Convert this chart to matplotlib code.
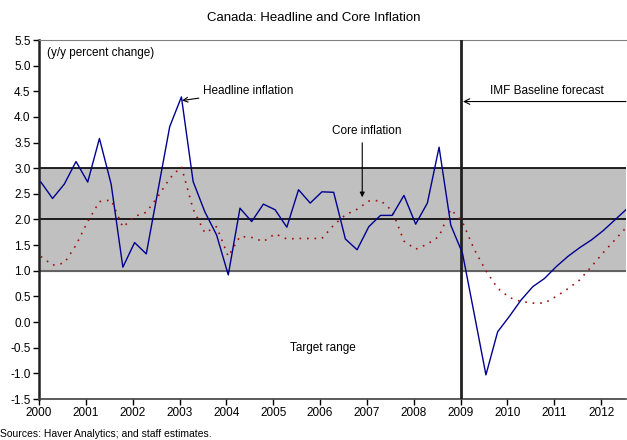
import numpy as np
import matplotlib
matplotlib.use("Agg")
import matplotlib.pyplot as plt

plt.rcParams['font.family'] = ['Liberation Sans', 'DejaVu Sans']

# quarterly, 2000Q1 .. 2012Q3
headline = [2.73, 2.41, 2.69, 3.13, 2.73, 3.58, 2.69, 1.07, 1.55, 1.33,
            2.57, 3.81, 4.39, 2.74, 2.15, 1.70, 0.92, 2.22, 1.96, 2.30,
            2.19, 1.85, 2.58, 2.32, 2.54, 2.53, 1.62, 1.41, 1.86, 2.08,
            2.08, 2.47, 1.91, 2.32, 3.41, 1.89, 1.34, 0.16, -1.03, -0.19,
            0.11, 0.43, 0.69, 0.85, 1.08, 1.28, 1.45, 1.60, 1.78, 1.99,
            2.20]
core = [1.28, 1.11, 1.15, 1.50, 1.96, 2.35, 2.38, 1.85, 2.06, 2.14,
        2.45, 2.80, 3.03, 2.20, 1.74, 1.86, 1.28, 1.67, 1.65, 1.57,
        1.72, 1.62, 1.63, 1.63, 1.63, 1.89, 2.09, 2.20, 2.36, 2.37,
        2.17, 1.58, 1.42, 1.52, 1.67, 2.20, 1.95, 1.42, 1.00, 0.66,
        0.48, 0.40, 0.37, 0.37, 0.50, 0.65, 0.82, 1.08, 1.35, 1.60,
        1.85]
years = list(range(2000, 2013))
yticks = np.arange(-1.5, 5.51, 0.5)

t = 2000 + np.arange(len(headline)) / 4 + 0.04

fig = plt.figure(figsize=(6.27, 4.4), dpi=100)
ax = fig.add_axes([39 / 627, 1 - 399 / 440, 587 / 627, 359 / 440])

ax.axhspan(1.0, 3.0, color='#c0c0c0', zorder=0)
ax.axhline(3.0, color='black', lw=1.2, zorder=1)
ax.axhline(2.0, color='black', lw=1.2, zorder=1)
ax.axhline(1.0, color='#505050', lw=1.2, zorder=1)
ax.axvline(2009, color='#202020', lw=2, zorder=3)

ax.plot(t, core, color='#a01010', lw=1.2, ls=(0, (1, 3.5)), zorder=2)
ax.plot(t, headline, color='#000090', lw=1.0, zorder=4)

ax.set_xlim(2000, 2012.53)
ax.set_ylim(-1.5, 5.5)
ax.set_xticks(years)
ax.set_xticklabels([str(y) for y in years], fontsize=8.5)
ax.set_yticks(yticks)
ax.set_yticklabels(['%.1f' % v for v in yticks], fontsize=8.5)
ax.tick_params(direction='out', length=4, width=1, pad=2)

ax.spines['top'].set_color('#808080')
ax.spines['right'].set_visible(False)
ax.spines['left'].set_linewidth(1.8)
ax.spines['left'].set_color('#202020')
ax.spines['bottom'].set_color('#404040')
ax.spines['bottom'].set_linewidth(1.2)

ax.text(2000.17, 5.25, '(y/y percent change)', fontsize=8.5, va='center')
ax.annotate('Headline inflation', xy=(2003.05, 4.32), xytext=(2003.5, 4.5),
            fontsize=8.5, va='center',
            arrowprops=dict(arrowstyle='->', color='black', lw=0.8,
                            shrinkA=1, shrinkB=0))
ax.text(2007.0, 3.73, 'Core inflation', fontsize=8.5, ha='center', va='center')
ax.annotate('', xy=(2006.9, 2.38), xytext=(2006.9, 3.55),
            arrowprops=dict(arrowstyle='-|>', color='black', lw=0.8,
                            mutation_scale=7))
ax.text(2010.85, 4.5, 'IMF Baseline forecast', fontsize=8.5, ha='center', va='center')
ax.annotate('', xy=(2009.05, 4.3), xytext=(2012.53, 4.3),
            arrowprops=dict(arrowstyle='->', color='black', lw=0.8,
                            shrinkA=0, shrinkB=0))
ax.text(2006.05, -0.5, 'Target range', fontsize=8.5, ha='center', va='center')

fig.text(0.5, 1 - 18 / 440, 'Canada: Headline and Core Inflation', fontsize=9.5,
         ha='center', va='center')
fig.text(0.0, 1 - 434 / 440, 'Sources: Haver Analytics; and staff estimates.',
         fontsize=7.5, ha='left', va='center')

fig.savefig('out.png', dpi=100)
